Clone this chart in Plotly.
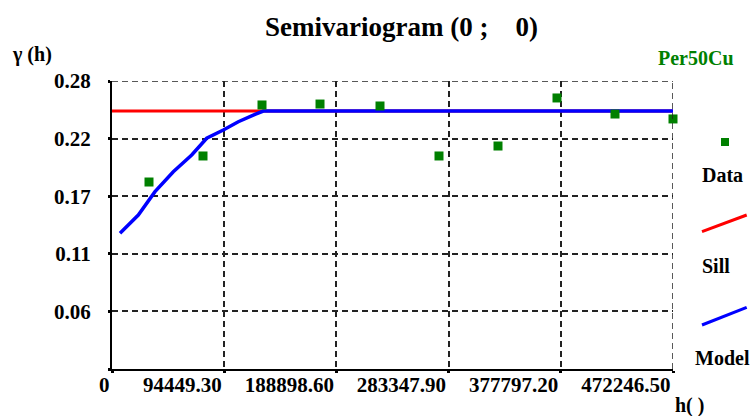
import plotly.graph_objects as go

# ---- data ----
lag_h = [31146, 76603, 126270, 175100, 225600, 275270, 324930, 374600, 423420, 472246.5]
gamma_data = [0.1818, 0.2071, 0.2567, 0.2576, 0.2557, 0.2071, 0.2168, 0.2635, 0.2479, 0.2431]

model_h = [6734, 22140, 36197, 51602, 67091, 79718, 93690, 106318, 120376, 127364, 472246.5]
model_gamma = [0.1319, 0.1497, 0.1724, 0.1918, 0.2081, 0.2243, 0.2324, 0.2404, 0.2476, 0.2508, 0.2508]

sill_h = [0, 472246.5]
sill_gamma = [0.2508, 0.2508]

x_tickvals = [0, 94449.3, 188898.6, 283347.9, 377797.2, 472246.5]
x_ticktext = ["0", "94449.30", "188898.60", "283347.90", "377797.20", "472246.50"]
y_tickvals = [0, 0.056, 0.112, 0.168, 0.224, 0.28]
y_ticktext = ["", "0.06", "0.11", "0.17", "0.22", "0.28"]

variable_name = "Per50Cu"
title_text = "Semivariogram (0 ;\u00a0\u00a0\u00a0\u00a00)"

# ---- layout geometry (pixels) ----
W, H = 756, 416
L, R, T, B = 112, 673, 81, 369
FONT = "Liberation Serif, Tinos, Times New Roman, Times, serif"


def px(xp):
    return (xp - L) / (R - L)


def py(yp):
    return (B - yp) / (B - T)


fig = go.Figure()

fig.add_trace(go.Scatter(x=sill_h, y=sill_gamma, mode="lines",
                         line=dict(color="#ff0000", width=3), name="Sill",
                         cliponaxis=False))
fig.add_trace(go.Scatter(x=model_h, y=model_gamma, mode="lines",
                         line=dict(color="#0000ff", width=3.5),
                         name="Model", cliponaxis=False))
fig.add_trace(go.Scatter(x=lag_h, y=gamma_data, mode="markers",
                         marker=dict(symbol="square", size=9, color="#008000"),
                         name="Data", cliponaxis=False))

GRIDCOL = "#222222"
DASH = "6px,4px"
grid = dict(showgrid=True, gridcolor=GRIDCOL, gridwidth=1.5, griddash=DASH)
tickfont = dict(family=FONT, size=21, weight="bold", color="black")

fig.update_layout(
    width=W, height=H,
    margin=dict(l=L, r=W - R, t=T, b=H - B, pad=0, autoexpand=False),
    paper_bgcolor="white", plot_bgcolor="white",
    showlegend=False,
    font=dict(family=FONT, color="black"),
    xaxis=dict(range=[0, 472246.5], tickmode="array", tickvals=x_tickvals,
               ticktext=x_ticktext, ticklabelposition="outside left",
               tickfont=tickfont, tickangle=0, automargin=False,
               showline=True, linecolor="black", linewidth=2,
               ticks="outside", ticklen=2, tickwidth=3, tickcolor="black",
               ticklabelstandoff=-4,
               zeroline=False, **grid),
    yaxis=dict(range=[0, 0.28], tickmode="array", tickvals=y_tickvals,
               ticktext=y_ticktext,
               tickfont=tickfont, automargin=False,
               showline=True, linecolor="black", linewidth=2,
               ticks="outside", ticklen=2, tickwidth=3, tickcolor="black",
               ticklabelstandoff=13,
               zeroline=False, **grid),
)

# dashed border on top/right (grid lines at range ends)
fig.add_shape(type="line", xref="x", yref="y", x0=0, x1=472246.5, y0=0.28, y1=0.28,
              line=dict(color=GRIDCOL, width=1.5, dash=DASH))
fig.add_shape(type="line", xref="x", yref="y", x0=472246.5, x1=472246.5, y0=0, y1=0.28,
              line=dict(color=GRIDCOL, width=1.5, dash=DASH))


def ann(text, xp, yp, size, color="black", xanchor="center"):
    fig.add_annotation(text=text, xref="paper", yref="paper", x=px(xp), y=py(yp),
                       xanchor=xanchor, yanchor="middle", showarrow=False,
                       font=dict(family=FONT, size=size, color=color, weight="bold"))


ann(title_text, 401.5, 27, 27)
ann("\u03b3 (h)", 32, 54, 20)
ann(variable_name, 696, 58, 20, color="#008000")
ann("Data", 722, 175, 20)
ann("Sill", 716, 266, 20)
ann("Model", 722.5, 358, 20)
ann("h( )", 689, 405, 20)

# legend glyphs
fig.add_shape(type="rect", xref="paper", yref="paper",
              x0=px(721), x1=px(729), y0=py(146), y1=py(138),
              fillcolor="#008000", line=dict(width=0))
fig.add_shape(type="line", xref="paper", yref="paper",
              x0=px(702), y0=py(231.7), x1=px(746.7), y1=py(215),
              line=dict(color="#ff0000", width=3))
fig.add_shape(type="line", xref="paper", yref="paper",
              x0=px(702), y0=py(325), x1=px(746.7), y1=py(307.3),
              line=dict(color="#0000ff", width=3))

fig.write_html("out.html")
